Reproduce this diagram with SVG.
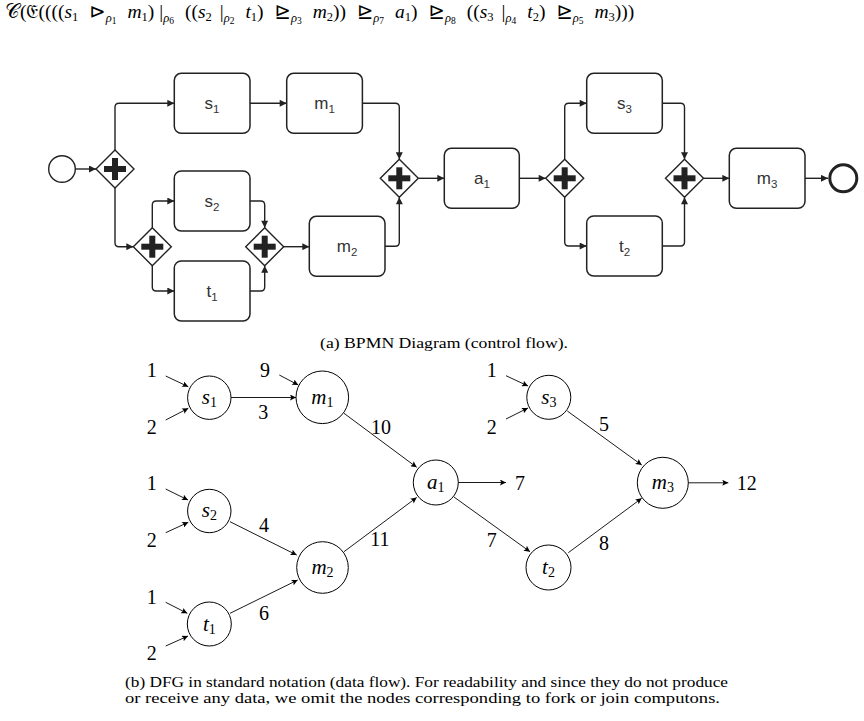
<svg xmlns="http://www.w3.org/2000/svg" width="864" height="721" viewBox="0 0 864 721">
<style>
.bg{fill:#fff}
.box{fill:#fff;stroke:#222;stroke-width:1.5}
.gw{fill:#fff;stroke:#222;stroke-width:1.4}
.plus{fill:#222}
.flow{fill:none;stroke:#222;stroke-width:1.4;marker-end:url(#bArr)}
.bl{font-family:"Liberation Sans",Arial,sans-serif;font-size:17px;fill:#333;text-anchor:middle}
.bs{font-size:11.5px}
.dc{fill:none;stroke:#000;stroke-width:1}
.de{fill:none;stroke:#000;stroke-width:0.9;marker-end:url(#dArr)}
.dl{font-family:"Liberation Serif","DejaVu Serif",serif;font-style:italic;font-size:21px;fill:#000;text-anchor:middle}
.ds{font-style:normal;font-size:14px}
.num{font-family:"Liberation Serif","DejaVu Serif",serif;font-size:20px;fill:#000;text-anchor:middle}
.cap{font-family:"Liberation Serif","DejaVu Serif",serif;font-size:15.5px;fill:#000}
.f{font-family:"Liberation Serif","DejaVu Serif","DejaVu Sans",serif;font-size:19.5px;fill:#000}
.i{font-style:italic}
.sb{font-size:12.5px}
.ss{font-size:9.5px}
</style>
<defs>
<marker id="bArr" viewBox="0 0 10 10" refX="10" refY="5" markerUnits="userSpaceOnUse" markerWidth="8" markerHeight="7" orient="auto"><path d="M0,0 L10,5 L0,10 z" fill="#222"/></marker>
<marker id="dArr" viewBox="0 0 10 10" refX="10" refY="5" markerUnits="userSpaceOnUse" markerWidth="8" markerHeight="6" orient="auto"><path d="M0,0 L10,5 L0,10 L2,5 z" fill="#000"/></marker>
<g id="gwShape"><polygon class="gw" points="0,-19 19,0 0,19 -19,0"/><rect class="plus" x="-11" y="-3" width="22" height="6"/><rect class="plus" x="-3" y="-11" width="6" height="22"/></g>
</defs>
<rect class="bg" x="0" y="0" width="864" height="721"/>

<text class="f" x="5" y="18">𝒞(𝔈((((<tspan class="i">s</tspan><tspan class="sb" dy="3">1</tspan><tspan dx="11" dy="-3">⊳</tspan><tspan class="sb i" dy="4">ρ</tspan><tspan class="ss" dy="2">1</tspan><tspan class="i" dx="11" dy="-6">m</tspan><tspan class="sb" dy="3">1</tspan><tspan dy="-3">)</tspan><tspan dx="5">|</tspan><tspan class="sb i" dy="4">ρ</tspan><tspan class="ss" dy="2">6</tspan><tspan dx="11" dy="-6">((</tspan><tspan class="i">s</tspan><tspan class="sb" dy="3">2</tspan><tspan dx="8" dy="-3">|</tspan><tspan class="sb i" dy="4">ρ</tspan><tspan class="ss" dy="2">2</tspan><tspan class="i" dx="11" dy="-6">t</tspan><tspan class="sb" dy="3">1</tspan><tspan dy="-3">)</tspan><tspan dx="11">⊵</tspan><tspan class="sb i" dy="4">ρ</tspan><tspan class="ss" dy="2">3</tspan><tspan class="i" dx="11" dy="-6">m</tspan><tspan class="sb" dy="3">2</tspan><tspan dy="-3">))</tspan><tspan dx="11">⊵</tspan><tspan class="sb i" dy="4">ρ</tspan><tspan class="ss" dy="2">7</tspan><tspan class="i" dx="11" dy="-6">a</tspan><tspan class="sb" dy="3">1</tspan><tspan dy="-3">)</tspan><tspan dx="11">⊵</tspan><tspan class="sb i" dy="4">ρ</tspan><tspan class="ss" dy="2">8</tspan><tspan dx="11" dy="-6">((</tspan><tspan class="i">s</tspan><tspan class="sb" dy="3">3</tspan><tspan dx="8" dy="-3">|</tspan><tspan class="sb i" dy="4">ρ</tspan><tspan class="ss" dy="2">4</tspan><tspan class="i" dx="11" dy="-6">t</tspan><tspan class="sb" dy="3">2</tspan><tspan dy="-3">)</tspan><tspan dx="11">⊵</tspan><tspan class="sb i" dy="4">ρ</tspan><tspan class="ss" dy="2">5</tspan><tspan class="i" dx="11" dy="-6">m</tspan><tspan class="sb" dy="3">3</tspan><tspan dy="-3">)))</tspan></text>

<!-- BPMN connectors -->
<g id="bpmn-flows">
<path class="flow" d="M75.3,169 H96"/>
<path class="flow" d="M115,150 V107.3 Q115,103.3 119,103.3 H174.3"/>
<path class="flow" d="M250,103.3 H286.7"/>
<path class="flow" d="M362.3,103.3 H395.3 Q399.3,103.3 399.3,107.3 V159.3"/>
<path class="flow" d="M115,188 V242.7 Q115,246.7 119,246.7 H133.3"/>
<path class="flow" d="M152.3,227.7 V205 Q152.3,201 156.3,201 H174.3"/>
<path class="flow" d="M152.3,265.7 V287 Q152.3,291 156.3,291 H174.3"/>
<path class="flow" d="M250,201 H260.7 Q264.7,201 264.7,205 V227.7"/>
<path class="flow" d="M250,291 H260.7 Q264.7,291 264.7,287 V265.7"/>
<path class="flow" d="M283.7,246.7 H309.3"/>
<path class="flow" d="M385,246.3 H395.3 Q399.3,246.3 399.3,242.3 V197.3"/>
<path class="flow" d="M418.3,178.3 H444.3"/>
<path class="flow" d="M519.3,178.3 H545.7"/>
<path class="flow" d="M564.7,159.3 V107.3 Q564.7,103.3 568.7,103.3 H586.7"/>
<path class="flow" d="M564.7,197.3 V242 Q564.7,246 568.7,246 H586.7"/>
<path class="flow" d="M662.3,103.3 H680.5 Q684.5,103.3 684.5,107.3 V159.3"/>
<path class="flow" d="M662.3,246 H680.5 Q684.5,246 684.5,242 V197.3"/>
<path class="flow" d="M703.5,178.3 H729.3"/>
<path class="flow" d="M805,178.3 H828"/>
</g>

<!-- BPMN nodes -->
<g id="start"><circle cx="62" cy="169" r="13.3" fill="#fff" stroke="#222" stroke-width="1.4"/></g>
<g id="gw1"><use href="#gwShape" x="115" y="169"/></g>
<g id="gw2"><use href="#gwShape" x="152.3" y="246.7"/></g>
<g id="gw3"><use href="#gwShape" x="264.7" y="246.7"/></g>
<g id="gw4"><use href="#gwShape" x="399.3" y="178.3"/></g>
<g id="gw5"><use href="#gwShape" x="564.7" y="178.3"/></g>
<g id="gw6"><use href="#gwShape" x="684.5" y="178.3"/></g>
<g id="task-s1"><rect class="box" x="174.3" y="73.3" width="75.7" height="60" rx="7"/><text class="bl" x="212" y="109">s<tspan class="bs" dy="4">1</tspan></text></g>
<g id="task-m1"><rect class="box" x="286.7" y="73.3" width="75.7" height="60" rx="7"/><text class="bl" x="324.5" y="109">m<tspan class="bs" dy="4">1</tspan></text></g>
<g id="task-s2"><rect class="box" x="174.3" y="171" width="75.7" height="60" rx="7"/><text class="bl" x="212" y="206.7">s<tspan class="bs" dy="4">2</tspan></text></g>
<g id="task-t1"><rect class="box" x="174.3" y="261" width="75.7" height="60" rx="7"/><text class="bl" x="212" y="296.7">t<tspan class="bs" dy="4">1</tspan></text></g>
<g id="task-m2"><rect class="box" x="309.3" y="216.3" width="75.7" height="60" rx="7"/><text class="bl" x="347" y="252">m<tspan class="bs" dy="4">2</tspan></text></g>
<g id="task-a1"><rect class="box" x="444.3" y="148.3" width="75" height="60" rx="7"/><text class="bl" x="482" y="184">a<tspan class="bs" dy="4">1</tspan></text></g>
<g id="task-s3"><rect class="box" x="586.7" y="73.3" width="75.6" height="60" rx="7"/><text class="bl" x="624.5" y="109">s<tspan class="bs" dy="4">3</tspan></text></g>
<g id="task-t2"><rect class="box" x="586.7" y="216" width="75.6" height="60" rx="7"/><text class="bl" x="624.5" y="251.7">t<tspan class="bs" dy="4">2</tspan></text></g>
<g id="task-m3"><rect class="box" x="729.3" y="148.3" width="75.7" height="60" rx="7"/><text class="bl" x="767" y="184">m<tspan class="bs" dy="4">3</tspan></text></g>
<g id="end"><circle cx="843.3" cy="178.3" r="13.5" fill="#fff" stroke="#222" stroke-width="3"/></g>

<text class="cap" x="320" y="348" textLength="248" lengthAdjust="spacingAndGlyphs">(a) BPMN Diagram (control flow).</text>

<!-- DFG connectors -->
<g id="dfg-edges">
<line class="de" x1="165.7" y1="376" x2="188.3" y2="386.7"/>
<line class="de" x1="165.7" y1="420" x2="188.3" y2="408.3"/>
<line class="de" x1="279.3" y1="375" x2="298.3" y2="385"/>
<line class="de" x1="231" y1="397.5" x2="296" y2="397.5"/>
<line class="de" x1="344" y1="413.3" x2="416.7" y2="467.3"/>
<line class="de" x1="458.3" y1="482.5" x2="506" y2="482.5"/>
<line class="de" x1="165.7" y1="489" x2="188" y2="500"/>
<line class="de" x1="165.7" y1="532.7" x2="188.3" y2="522.3"/>
<line class="de" x1="230" y1="521.7" x2="296.7" y2="555"/>
<line class="de" x1="230" y1="613.3" x2="297.7" y2="580"/>
<line class="de" x1="344" y1="551.7" x2="416.7" y2="497.5"/>
<line class="de" x1="165.7" y1="602.3" x2="187.3" y2="613.3"/>
<line class="de" x1="165.7" y1="646" x2="188" y2="636"/>
<line class="de" x1="506" y1="375.7" x2="528" y2="386"/>
<line class="de" x1="506" y1="419" x2="528" y2="408"/>
<line class="de" x1="567.3" y1="411" x2="641.7" y2="465"/>
<line class="de" x1="454" y1="497" x2="530" y2="551.7"/>
<line class="de" x1="568.3" y1="552.7" x2="641.7" y2="498.3"/>
<line class="de" x1="688.3" y1="482.8" x2="728.3" y2="482.8"/>
</g>

<!-- DFG nodes -->
<g id="d-s1"><circle class="dc" cx="209.3" cy="397.7" r="21.7"/><text class="dl" x="209.3" y="404">s<tspan class="ds" dy="3">1</tspan></text></g>
<g id="d-m1"><circle class="dc" cx="322.3" cy="397.3" r="26.3"/><text class="dl" x="322.3" y="404">m<tspan class="ds" dy="3">1</tspan></text></g>
<g id="d-s2"><circle class="dc" cx="209.3" cy="511" r="21.7"/><text class="dl" x="209.3" y="517">s<tspan class="ds" dy="3">2</tspan></text></g>
<g id="d-m2"><circle class="dc" cx="322.5" cy="567.5" r="25.8"/><text class="dl" x="322.5" y="574">m<tspan class="ds" dy="3">2</tspan></text></g>
<g id="d-t1"><circle class="dc" cx="209.3" cy="624" r="22"/><text class="dl" x="209.3" y="630.5">t<tspan class="ds" dy="3">1</tspan></text></g>
<g id="d-a1"><circle class="dc" cx="435.8" cy="482.5" r="22.5"/><text class="dl" x="435.8" y="489">a<tspan class="ds" dy="3">1</tspan></text></g>
<g id="d-s3"><circle class="dc" cx="548.8" cy="397.3" r="22"/><text class="dl" x="548.8" y="403.5">s<tspan class="ds" dy="3">3</tspan></text></g>
<g id="d-t2"><circle class="dc" cx="548.5" cy="567.5" r="22.5"/><text class="dl" x="548.5" y="574">t<tspan class="ds" dy="3">2</tspan></text></g>
<g id="d-m3"><circle class="dc" cx="662.8" cy="482.8" r="25.5"/><text class="dl" x="662.8" y="489">m<tspan class="ds" dy="3">3</tspan></text></g>

<!-- DFG numbers -->
<g id="dfg-labels">
<text class="num" x="151.7" y="377">1</text>
<text class="num" x="151.7" y="433.7">2</text>
<text class="num" x="265" y="377">9</text>
<text class="num" x="263.3" y="418.7">3</text>
<text class="num" x="381" y="434.3">10</text>
<text class="num" x="520" y="490">7</text>
<text class="num" x="151.7" y="490.3">1</text>
<text class="num" x="151.7" y="547">2</text>
<text class="num" x="264" y="532">4</text>
<text class="num" x="264" y="620.3">6</text>
<text class="num" x="380" y="546.3">11</text>
<text class="num" x="151.7" y="603.7">1</text>
<text class="num" x="151.7" y="660.3">2</text>
<text class="num" x="491.7" y="377">1</text>
<text class="num" x="491.7" y="433.7">2</text>
<text class="num" x="604" y="431">5</text>
<text class="num" x="491.7" y="547">7</text>
<text class="num" x="604" y="549.7">8</text>
<text class="num" x="746.7" y="490.3">12</text>
</g>

<text class="cap" x="125" y="687" textLength="603" lengthAdjust="spacingAndGlyphs">(b) DFG in standard notation (data flow). For readability and since they do not produce</text>
<text class="cap" x="125" y="703" textLength="595" lengthAdjust="spacingAndGlyphs">or receive any data, we omit the nodes corresponding to fork or join computons.</text>
</svg>
